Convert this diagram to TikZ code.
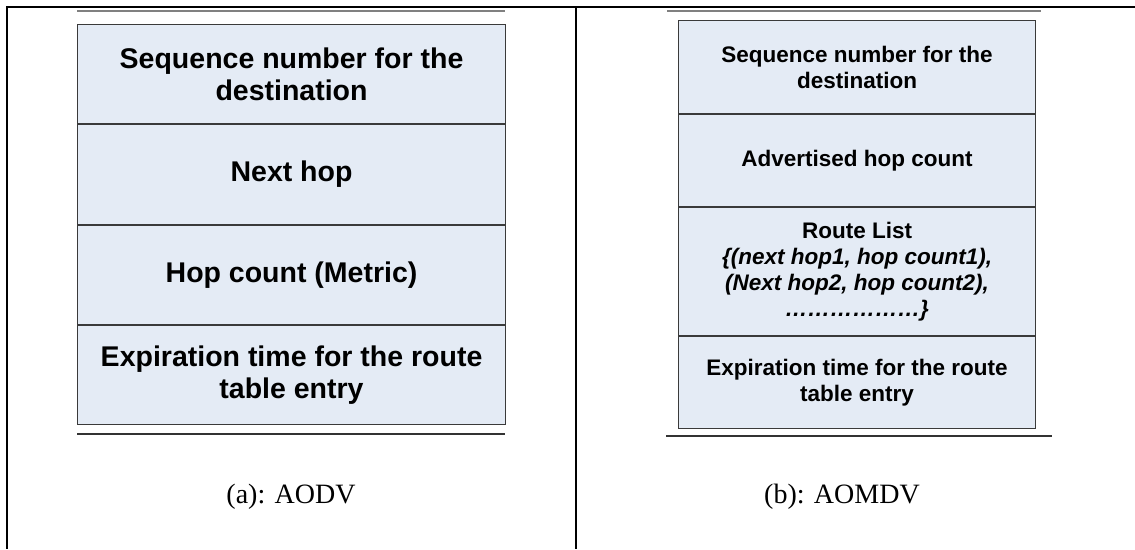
\documentclass[tikz,border=0pt]{standalone}
\usepackage{fontspec}
\setmainfont{Liberation Sans}
\newfontfamily\captionserif{Liberation Serif}
\definecolor{cellfill}{HTML}{E4EBF5}
\definecolor{cellline}{HTML}{3A3A3A}
\begin{document}
\begin{tikzpicture}[x=1pt,y=-1pt]
\tikzset{
  frameline/.style={line width=2.4pt, draw=black},
  toprule/.style={line width=1.3pt, draw=black!50},
  botrule/.style={line width=1.3pt, draw=black!80},
  cell/.style={draw=cellline, line width=1.1pt, fill=cellfill, anchor=north west,
    align=center, inner sep=0pt, text=black},
  bigcell/.style={cell, minimum width=428pt,
    font=\fontsize{28.5}{32}\selectfont\bfseries},
  smallcell/.style={cell, minimum width=357pt,
    font=\fontsize{22.5}{26}\selectfont\bfseries},
  capt/.style={font=\captionserif\fontsize{28}{32}\selectfont, inner sep=0pt}
}
\useasboundingbox (0,0) rectangle (1135,549);

% outer frame: top rule, left edge and the column separator
\coordinate (tl) at (7,7);
\coordinate (tr) at (1135,7);
\coordinate (bl) at (7,549);
\coordinate (mt) at (576,7);
\coordinate (mb) at (576,549);
\draw[frameline] (tr) -- (tl) -- (bl);
\draw[frameline] (mt) -- (mb);

% ---- left column: AODV routing table entry ----
\coordinate (la) at (77,11);  \coordinate (lb) at (505,11);
\draw[toprule] (la) -- (lb);
\node[bigcell, minimum height=99.25pt] (a1) at (77,24)
  {Sequence number for the\\destination};
\node[bigcell, minimum height=99.25pt] (a2) at (a1.south west) {Next hop};
\node[bigcell, minimum height=99.25pt] (a3) at (a2.south west) {Hop count (Metric)};
\node[bigcell, minimum height=99.25pt] (a4) at (a3.south west)
  {Expiration time for the route\\table entry};
\coordinate (lc) at (77,434); \coordinate (ld) at (505,434);
\draw[botrule] (lc) -- (ld);
\node[capt] (capa) at (291,497) {(a): AODV};

% ---- right column: AOMDV routing table entry ----
\coordinate (ra) at (667,11); \coordinate (rb) at (1041,11);
\draw[toprule] (ra) -- (rb);
\node[smallcell, minimum height=93pt] (b1) at (678,20)
  {Sequence number for the\\destination};
\node[smallcell, minimum height=92pt] (b2) at (b1.south west) {Advertised hop count};
\node[smallcell, minimum height=128pt] (b3) at (b2.south west)
  {Route List\\\textit{\{(next hop1, hop count1),}\\\textit{(Next hop2, hop count2),}\\\textit{………………\}}};
\node[smallcell, minimum height=92pt] (b4) at (b3.south west)
  {Expiration time for the route\\table entry};
\coordinate (rc) at (666,436); \coordinate (rd) at (1052,436);
\draw[botrule] (rc) -- (rd);
\node[capt] (capb) at (842,497) {(b): AOMDV};
\end{tikzpicture}
\end{document}
